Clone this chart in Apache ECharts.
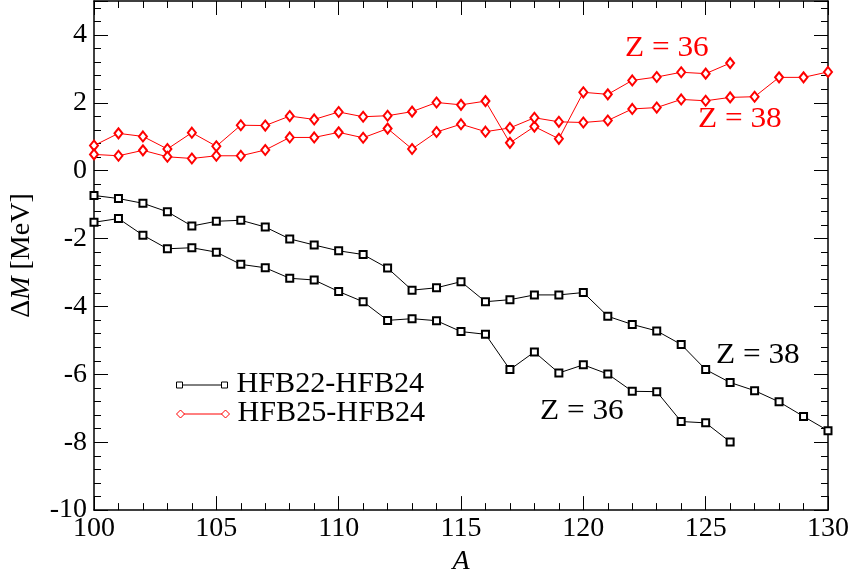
<!DOCTYPE html>
<html>
<head>
<meta charset="utf-8">
<script src="https://cdn.jsdelivr.net/npm/echarts@6/dist/echarts.min.js"></script>
<style>html,body{margin:0;padding:0;background:#fff}#c{width:855px;height:581px}</style>
</head>
<body>
<div id="c"></div>
<script>
// Mass numbers
const A_Z36 = [100,101,102,103,104,105,106,107,108,109,110,111,112,113,114,115,116,117,118,119,120,121,122,123,124,125,126];
const A_Z38 = [100,101,102,103,104,105,106,107,108,109,110,111,112,113,114,115,116,117,118,119,120,121,122,123,124,125,126,127,128,129,130];
// HFB22-HFB24
const hfb22_Z38 = [-0.73,-0.82,-0.96,-1.21,-1.63,-1.49,-1.46,-1.66,-2.01,-2.19,-2.36,
  -2.47,-2.87,-3.52,-3.45,-3.27,-3.86,-3.80,-3.66,-3.66,-3.59,
  -4.29,-4.53,-4.72,-5.12,-5.86,-6.24,-6.48,-6.81,-7.24,-7.66];
const hfb22_Z36 = [-1.52,-1.41,-1.90,-2.30,-2.27,-2.40,-2.76,-2.86,-3.17,-3.22,-3.56,
  -3.86,-4.41,-4.36,-4.42,-4.74,-4.82,-5.86,-5.34,-5.96,-5.72,
  -5.99,-6.50,-6.51,-7.39,-7.43,-7.99];
// HFB25-HFB24
const hfb25_Z36 = [0.74,1.10,1.01,0.64,1.12,0.72,1.34,1.33,1.61,1.51,1.73,
  1.59,1.62,1.74,2.01,1.94,2.05,0.82,1.30,0.94,2.31,
  2.25,2.66,2.76,2.90,2.86,3.17];
const hfb25_Z38 = [0.48,0.44,0.60,0.41,0.36,0.44,0.44,0.61,0.98,0.98,1.13,
  0.97,1.24,0.64,1.14,1.37,1.15,1.26,1.56,1.44,1.42,
  1.48,1.82,1.86,2.10,2.06,2.16,2.18,2.75,2.75,2.91];
const xTicks = [100,105,110,115,120,125,130];
const yTicks = [-10,-8,-6,-4,-2,0,2,4];

const zip = (xs, ys) => xs.map((x, i) => [x, ys[i]]);
const FONT = '"Liberation Serif", "Times New Roman", Times, serif';
const BLACK = '#000000';
const RED = '#ff0000';
const FS = 28;
const GFS = 29;
const SX = 1.08;
const LSX = 1.04;

const chart = echarts.init(document.getElementById('c'), null, {renderer: 'canvas'});

const axisCommon = {
  axisLine: {show: true, onZero: false, lineStyle: {color: '#000', width: 1.5}},
  axisTick: {show: true, inside: true, length: 14, lineStyle: {color: '#000', width: 1}},
  minorTick: {show: true, splitNumber: 5, length: 7, lineStyle: {color: '#000', width: 1}},
  splitLine: {show: false},
  minorSplitLine: {show: false}
};

function blackSeries(name, xs, ys) {
  return {
    name: name, type: 'line', data: zip(xs, ys),
    symbol: 'emptyRect', symbolSize: 7, showAllSymbol: true,
    lineStyle: {color: BLACK, width: 1},
    itemStyle: {color: BLACK, borderColor: BLACK, borderWidth: 1.2},
    z: 3
  };
}
function redSeries(name, xs, ys) {
  return {
    name: name, type: 'line', data: zip(xs, ys),
    symbol: 'emptyDiamond', symbolSize: [8, 10], showAllSymbol: true,
    lineStyle: {color: RED, width: 1},
    itemStyle: {color: RED, borderColor: RED, borderWidth: 1.2},
    z: 3
  };
}

const txt = (text, x, y, color) => ({
  type: 'group', left: x, top: y,
  children: [{type: 'text', x: 0, y: 0, scaleX: SX,
    style: {text: text, fill: color, font: GFS + 'px ' + FONT, textVerticalAlign: 'top'}}]
});

const legendGroup = (y, color, symbol, label) => ({
  type: 'group', left: 176, top: y - 15,
  children: [
    {type: 'line', shape: {x1: 2, y1: 15, x2: 47, y2: 15}, style: {stroke: color, lineWidth: 1}},
    symbol === 'rect'
      ? {type: 'rect', shape: {x: -1, y: 12, width: 6, height: 6}, style: {stroke: color, fill: '#fff', lineWidth: 1}}
      : {type: 'polygon', shape: {points: [[2, 11], [6, 15], [2, 19], [-2, 15]]}, style: {stroke: color, fill: '#fff', lineWidth: 1}},
    symbol === 'rect'
      ? {type: 'rect', shape: {x: 44, y: 12, width: 6, height: 6}, style: {stroke: color, fill: '#fff', lineWidth: 1}}
      : {type: 'polygon', shape: {points: [[47, 11], [51, 15], [47, 19], [43, 15]]}, style: {stroke: color, fill: '#fff', lineWidth: 1}},
    {type: 'text', x: 59, y: 0, scaleX: LSX, style: {text: label, fill: '#000', font: GFS + 'px ' + FONT, textVerticalAlign: 'top'}}
  ]
});

const option = {
  animation: false,
  backgroundColor: '#fff',
  grid: {left: 93, right: 27, top: 1, bottom: 67, containLabel: false},
  xAxis: [
    Object.assign({}, axisCommon, {
      type: 'value', min: 100, max: 130, interval: 5, position: 'bottom',
      axisLabel: {color: '#000', fontFamily: FONT, fontSize: FS, margin: 5},
      name: 'A', nameLocation: 'middle', nameGap: 30,
      nameTextStyle: {color: '#000', fontFamily: FONT, fontSize: FS, fontStyle: 'italic'}
    }),
    Object.assign({}, axisCommon, {
      type: 'value', min: 100, max: 130, interval: 5, position: 'top',
      axisLabel: {show: false}
    })
  ],
  yAxis: [
    Object.assign({}, axisCommon, {
      type: 'value', min: -10, max: 5, interval: 2, position: 'left',
      axisLabel: {color: '#000', fontFamily: FONT, fontSize: FS, margin: 7,
        formatter: v => (yTicks.indexOf(v) >= 0 ? String(v) : '')},
      name: '{n|Δ}{i|M}{n| [MeV]}', nameLocation: 'middle', nameGap: 58, nameRotate: 90,
      nameTextStyle: {color: '#000', fontFamily: FONT, fontSize: FS,
        rich: {n: {fontFamily: FONT, fontSize: FS, color: '#000'},
               i: {fontFamily: FONT, fontSize: FS, color: '#000', fontStyle: 'italic'}}}
    }),
    Object.assign({}, axisCommon, {
      type: 'value', min: -10, max: 5, interval: 2, position: 'right',
      axisLabel: {show: false}
    })
  ],
  series: [
    blackSeries('HFB22-HFB24 Z=38', A_Z38, hfb22_Z38),
    blackSeries('HFB22-HFB24 Z=36', A_Z36, hfb22_Z36),
    redSeries('HFB25-HFB24 Z=36', A_Z36, hfb25_Z36),
    redSeries('HFB25-HFB24 Z=38', A_Z38, hfb25_Z38)
  ],
  graphic: [
    txt('Z = 36', 625, 34, RED),
    txt('Z = 38', 698, 105, RED),
    txt('Z = 38', 716, 341, '#000'),
    txt('Z = 36', 540, 397, '#000'),
    legendGroup(385, BLACK, 'rect', 'HFB22-HFB24'),
    legendGroup(414, RED, 'diamond', 'HFB25-HFB24')
  ]
};
chart.setOption(option);
</script>
</body>
</html>
